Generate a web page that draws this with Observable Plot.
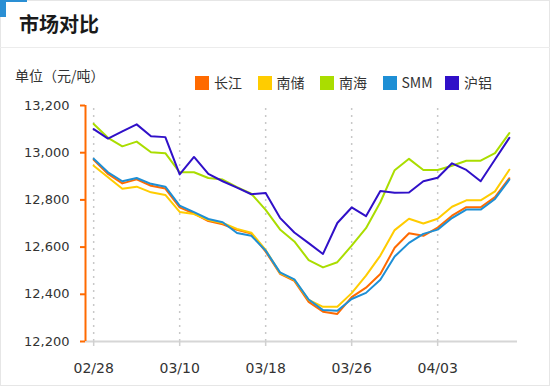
<!DOCTYPE html>
<html><head><meta charset="utf-8">
<script src="https://cdn.jsdelivr.net/npm/d3@7"></script>
<script src="https://cdn.jsdelivr.net/npm/@observablehq/plot@0.6"></script>
<style>
body{margin:0;background:#fff;}
#wrap{position:relative;width:550px;height:386px;overflow:hidden;font-family:"Noto Sans CJK SC","Noto Sans",sans-serif;color:#333;}
.frame{position:absolute;left:0;top:0;width:548px;height:384px;border:1px solid #e6e6e6;}
.cv{position:absolute;left:0;top:0;width:6px;height:17px;background:#2a8fd4;}
.ch{position:absolute;left:0;top:0;width:27px;height:2px;background:#2a8fd4;}
.title{position:absolute;left:19px;top:13px;font-size:20px;line-height:22px;font-weight:bold;color:#1a1a1a;}
.sep{position:absolute;left:0;top:47px;width:550px;height:1px;background:#ececec;}
.unit{position:absolute;left:15px;top:67px;font-size:14px;line-height:16px;color:#333;}
#legend{position:absolute;left:195px;top:69px;height:16px;white-space:nowrap;}
.item{display:inline-block;width:62.5px;font-size:14px;line-height:16px;color:#333;}
.sw{display:inline-block;width:14px;height:14px;vertical-align:-2px;margin-right:5px;}
#chart{position:absolute;left:0;top:95px;}
</style></head><body>
<div id="wrap">
 <div class="frame"></div>
 <div class="cv"></div><div class="ch"></div>
 <div class="title">市场对比</div>
 <div class="sep"></div>
 <div class="unit">单位（元/吨）</div>
 <div id="legend"></div>
 <div id="chart"></div>
</div>
<script>
const tickLabels = ["02/28","03/10","03/18","03/26","04/03"];
const tickIndex = [0,6,12,18,24];
const yTicks = [12200,12400,12600,12800,13000,13200];
const seriesNames = ["长江","南储","南海","SMM","沪铝"];
const seriesColors = ["#ff6a00","#ffcc00","#aadd00","#1e8fd5","#3010c8"];

const changjiang = [12970,12910,12870,12887,12860,12848,12768,12742,12710,12697,12673,12657,12581,12487,12457,12368,12326,12317,12388,12428,12486,12597,12659,12648,12683,12733,12769,12769,12812,12892];
const nanchu = [12945,12896,12847,12856,12832,12821,12749,12740,12715,12702,12677,12661,12588,12490,12461,12376,12347,12347,12405,12479,12564,12672,12720,12700,12720,12771,12798,12798,12836,12928];
const nanhai = [13122,13063,13027,13047,13002,12998,12917,12917,12893,12886,12854,12826,12758,12675,12624,12545,12514,12536,12606,12680,12790,12926,12974,12927,12927,12945,12966,12966,12998,13083];
const smm = [12974,12917,12879,12893,12868,12856,12776,12748,12719,12705,12660,12648,12585,12493,12463,12378,12333,12330,12380,12406,12462,12560,12618,12656,12674,12723,12759,12759,12804,12886];
const hulv = [13100,13060,13090,13120,13070,13066,12908,12982,12910,12879,12852,12824,12829,12724,12662,12617,12571,12702,12768,12731,12838,12830,12831,12879,12894,12955,12927,12879,12971,13063];

const allSeries = [changjiang, nanchu, nanhai, smm, hulv];
const rows = [];
allSeries.forEach((arr, k) => arr.forEach((v, i) => rows.push({i, v, s: seriesNames[k]})));

// legend
const lg = document.getElementById("legend");
seriesNames.forEach((n, k) => {
  const it = document.createElement("span");
  it.className = "item";
  it.innerHTML = `<span class="sw" style="background:${seriesColors[k]}"></span>${n}`;
  lg.appendChild(it);
});

const xmin = -0.57, xmax = 29.57;
const chart = Plot.plot({
  width: 550,
  height: 291,
  marginTop: 10,
  marginBottom: 45,
  marginLeft: 85,
  marginRight: 33,
  style: {fontFamily: "DejaVu Sans, sans-serif", fontSize: "13px", color: "#333", background: "transparent"},
  x: {domain: [xmin, xmax], axis: null},
  y: {domain: [12200, 13200], axis: null},
  color: {domain: seriesNames, range: seriesColors},
  marks: [
    Plot.ruleX(tickIndex, {y1: 12200, y2: 13200, stroke: "#c8c8c8", strokeDasharray: "2,5", strokeWidth: 1.5}),
    Plot.ruleY([12200], {x1: xmin, x2: xmax, stroke: "#d6d6d6", strokeWidth: 2}),
    Plot.axisX({ticks: tickIndex, label: null, tickFormat: i => tickLabels[tickIndex.indexOf(i)], tickSize: 5, tickPadding: 17, stroke: "#d0d0d0", fill: "#333", fontSize: 14, strokeWidth: 1.5}),
    Plot.axisY({ticks: yTicks, label: null, tickSize: 5, text: null, stroke: "#ff6a00", strokeWidth: 2}),
    Plot.axisY({ticks: yTicks, label: null, tickSize: 0, tickPadding: 16, tickFormat: d3.format(","), fill: "#333", fontSize: 13}),
    Plot.ruleX([xmin], {y1: 12200, y2: 13200, stroke: "#ff6a00", strokeWidth: 2}),
    Plot.line(rows, {x: "i", y: "v", z: "s", stroke: "s", strokeWidth: 2})
  ]
});
document.getElementById("chart").appendChild(chart);
</script>
</body></html>
